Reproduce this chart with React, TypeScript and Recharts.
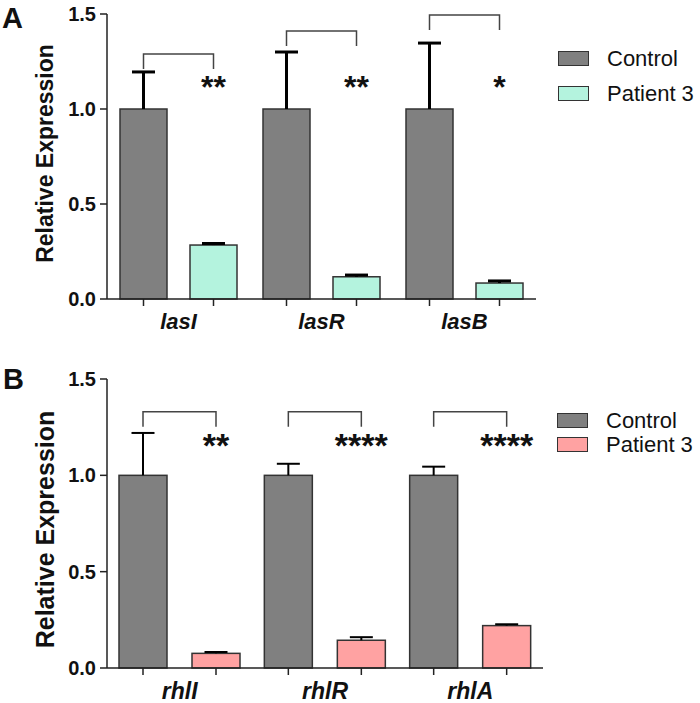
import { BarChart, Bar, XAxis, YAxis, Legend } from 'recharts';

// panel A - las genes
const genesA = ['lasI', 'lasR', 'lasB'];
const controlA = [1.0, 1.0, 1.0];
const controlErrA = [0.195, 0.3, 0.347];
const patientA = [0.284, 0.117, 0.084];
const patientErrA = [0.008, 0.009, 0.011];
const bracketA = [1.289, 1.41, 1.495];
const starsA = ['**', '**', '*'];
const starLevelA = 1.153;

// panel B - rhl genes
const genesB = ['rhlI', 'rhlR', 'rhlA'];
const controlB = [1.0, 1.0, 1.0];
const controlErrB = [0.22, 0.06, 0.045];
const patientB = [0.076, 0.144, 0.22];
const patientErrB = [0.007, 0.016, 0.007];
const bracketB = [1.33, 1.33, 1.33];
const starsB = ['**', '****', '****'];
const starLevelB = 1.194;

const yTicks = [0, 0.5, 1.0, 1.5];

const FONT = "'Liberation Sans', Arial, sans-serif";
const INK = '#222';
const BAR_EDGE = '#333';
const CONTROL_FILL = '#808080';
const MINT = '#b4f3de';
const PINK = '#ffa2a2';

type Row = {
  gene: string;
  control: number;
  controlErr: number;
  patient: number;
  patientErr: number;
  bracket: number;
  stars: string;
};

const buildRows = (
  genes: string[],
  control: number[],
  controlErr: number[],
  patient: number[],
  patientErr: number[],
  bracket: number[],
  stars: string[],
): Row[] =>
  genes.map((gene, i) => ({
    gene,
    control: control[i],
    controlErr: controlErr[i],
    patient: patient[i],
    patientErr: patientErr[i],
    bracket: bracket[i],
    stars: stars[i],
  }));

type ShapeOpts = {
  valueKey: 'control' | 'patient';
  errKey: 'controlErr' | 'patientErr';
  fill: string;
  errWidth: number;
  gap: number;
  starSize: number;
  starLevel: number;
  withBracket: boolean;
};

// bar + its up-only error bar + the tick under it; patient bars also carry the bracket and stars
const makeShape = (o: ShapeOpts) => (props: any) => {
  const { x, y, width, height, payload } = props;
  const value = payload[o.valueKey];
  const k = height / value; // px per unit from the bar's own scale
  const base = y + height;
  const cx = x + width / 2;
  const errTop = y - payload[o.errKey] * k;
  let extra = null;
  if (o.withBracket) {
    const left = cx - width - o.gap;
    const top = base - payload.bracket * k;
    const starY = base - o.starLevel * k + 0.57 * o.starSize;
    extra = (
      <g>
        <path
          d={`M${left},${top + 15}V${top}H${cx}V${top + 15}`}
          fill="none"
          stroke="#444"
          strokeWidth={1.5}
        />
        <text
          x={cx}
          y={starY}
          textAnchor="middle"
          fontFamily={FONT}
          fontWeight="bold"
          fontSize={o.starSize}
          fill="#111"
        >
          {payload.stars}
        </text>
      </g>
    );
  }
  return (
    <g>
      <rect x={x} y={y} width={width} height={height} fill={o.fill} stroke={BAR_EDGE} strokeWidth={1.5} />
      <line x1={cx} x2={cx} y1={base} y2={base + 7} stroke={INK} strokeWidth={1.5} />
      <line x1={cx} x2={cx} y1={y} y2={errTop} stroke="#000" strokeWidth={o.errWidth} />
      <line x1={cx - 11.5} x2={cx + 11.5} y1={errTop} y2={errTop} stroke="#000" strokeWidth={o.errWidth} />
      {extra}
    </g>
  );
};

const AxisTitle = ({ viewBox, size, shift }: any) => {
  const cx = 45;
  const cy = viewBox.y + viewBox.height / 2 + shift;
  return (
    <text
      x={cx}
      y={cy}
      transform={`rotate(-90 ${cx} ${cy})`}
      textAnchor="middle"
      dominantBaseline="central"
      fontFamily={FONT}
      fontWeight="bold"
      fontSize={size}
      fill="#111"
    >
      Relative Expression
    </text>
  );
};

const LegendBox = ({ payload, rowH }: any) => (
  <div style={{ fontFamily: FONT }}>
    {(payload || []).map((p: any) => (
      <div key={p.value} style={{ display: 'flex', alignItems: 'center', height: rowH }}>
        <span
          style={{
            display: 'inline-block',
            width: 31,
            height: 15,
            boxSizing: 'border-box',
            background: p.color,
            border: `1.5px solid ${BAR_EDGE}`,
          }}
        />
        <span style={{ marginLeft: 18, fontSize: 22, color: '#111', lineHeight: 1 }}>{p.value}</span>
      </div>
    ))}
  </div>
);

type PanelProps = {
  rows: Row[];
  height: number;
  margin: { top: number; right: number; bottom: number; left: number };
  patientFill: string;
  barSize: number;
  barGap: number;
  errWidth: number;
  starSize: number;
  starLevel: number;
  geneFont: number;
  geneMargin: number;
  titleSize: number;
  titleShift: number;
  legendLeft: number;
  legendTop: number;
  legendRow: number;
};

const Panel = (p: PanelProps) => (
  <BarChart
    width={700}
    height={p.height}
    data={p.rows}
    margin={p.margin}
    barSize={p.barSize}
    barGap={p.barGap}
    barCategoryGap={12}
  >
    <XAxis
      dataKey="gene"
      height={30}
      tickLine={false}
      tickSize={7}
      tickMargin={p.geneMargin}
      axisLine={{ stroke: INK, strokeWidth: 1.5 }}
      tick={{ fontSize: p.geneFont, fontWeight: 'bold', fontStyle: 'italic', fill: '#111', fontFamily: FONT }}
    />
    <YAxis
      width={107}
      domain={[0, 1.5]}
      ticks={yTicks}
      interval={0}
      tickFormatter={(v: number) => v.toFixed(1)}
      tickSize={7}
      tickMargin={4}
      axisLine={{ stroke: INK, strokeWidth: 1.5 }}
      tickLine={{ stroke: INK, strokeWidth: 1.5 }}
      tick={{ fontSize: 20, fontWeight: 'bold', fill: '#111', fontFamily: FONT }}
      label={<AxisTitle size={p.titleSize} shift={p.titleShift} />}
    />
    <Legend
      layout="vertical"
      align="center"
      verticalAlign="middle"
      wrapperStyle={{ left: p.legendLeft, top: p.legendTop, width: 140 }}
      content={(lp: any) => <LegendBox payload={lp.payload} rowH={p.legendRow} />}
    />
    <Bar
      dataKey="control"
      name="Control"
      fill={CONTROL_FILL}
      isAnimationActive={false}
      shape={makeShape({
        valueKey: 'control',
        errKey: 'controlErr',
        fill: CONTROL_FILL,
        errWidth: p.errWidth,
        gap: p.barGap,
        starSize: p.starSize,
        starLevel: p.starLevel,
        withBracket: false,
      })}
    />
    <Bar
      dataKey="patient"
      name="Patient 3"
      fill={p.patientFill}
      isAnimationActive={false}
      shape={makeShape({
        valueKey: 'patient',
        errKey: 'patientErr',
        fill: p.patientFill,
        errWidth: p.errWidth,
        gap: p.barGap,
        starSize: p.starSize,
        starLevel: p.starLevel,
        withBracket: true,
      })}
    />
  </BarChart>
);

const panelLetter = (top: number, left: number): React.CSSProperties => ({
  position: 'absolute',
  top,
  left,
  fontSize: 29,
  fontWeight: 'bold',
  lineHeight: 1,
  fontFamily: FONT,
  color: '#111',
});

export default function App() {
  const rowsA = buildRows(genesA, controlA, controlErrA, patientA, patientErrA, bracketA, starsA);
  const rowsB = buildRows(genesB, controlB, controlErrB, patientB, patientErrB, bracketB, starsB);
  return (
    <div style={{ position: 'absolute', left: 0, top: 0, width: 700, height: 703, background: '#fff', fontFamily: FONT }}>
      <div style={{ position: 'absolute', left: 0, top: 0 }}>
        <Panel
          rows={rowsA}
          height={340}
          margin={{ top: 14, right: 164, bottom: 11, left: 0 }}
          patientFill={MINT}
          barSize={47}
          barGap={23}
          errWidth={3}
          starSize={32}
          starLevel={starLevelA}
          geneFont={22}
          geneMargin={7}
          titleSize={23}
          titleShift={-3}
          legendLeft={558}
          legendTop={41}
          legendRow={35}
        />
      </div>
      <div style={{ position: 'absolute', left: 0, top: 360 }}>
        <Panel
          rows={rowsB}
          height={343}
          margin={{ top: 19, right: 157, bottom: 5, left: 0 }}
          patientFill={PINK}
          barSize={48}
          barGap={25}
          errWidth={2}
          starSize={34}
          starLevel={starLevelB}
          geneFont={23}
          geneMargin={8}
          titleSize={25}
          titleShift={6}
          legendLeft={557}
          legendTop={48.5}
          legendRow={24}
        />
      </div>
      <div style={panelLetter(4, 2)}>A</div>
      <div style={panelLetter(364.5, 3)}>B</div>
    </div>
  );
}
